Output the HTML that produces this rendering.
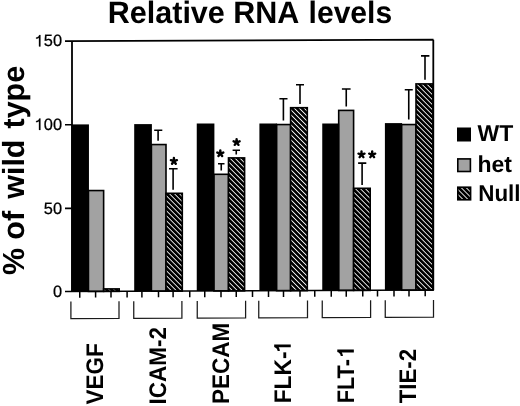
<!DOCTYPE html>
<html><head><meta charset="utf-8"><style>
html,body{margin:0;padding:0;background:#fff;width:520px;height:406px;overflow:hidden}
svg{display:block;will-change:transform}
.b{font-family:"Liberation Sans",sans-serif;font-weight:bold;fill:#000;text-rendering:geometricPrecision}
.r{font-family:"Liberation Sans",sans-serif;font-weight:normal;fill:#000;text-rendering:geometricPrecision;stroke:#000;stroke-width:0.25px}
</style></head><body>
<svg width="520" height="406" viewBox="0 0 520 406">
<defs>
<pattern id="hatch" patternUnits="userSpaceOnUse" width="3.5355" height="3.5355" patternTransform="translate(0,0) rotate(45)"><rect width="3.5355" height="3.5355" fill="#000"/><rect x="0" y="0" width="3.5355" height="0.85" fill="#fff"/></pattern>
<pattern id="hatch0" patternUnits="userSpaceOnUse" width="3.5355" height="3.5355" patternTransform="translate(0,0) rotate(45)"><rect width="3.5355" height="3.5355" fill="#000"/><rect x="0" y="0" width="3.5355" height="0.85" fill="#fff"/></pattern>
<pattern id="hatch1" patternUnits="userSpaceOnUse" width="3.5355" height="3.5355" patternTransform="translate(1.35,0) rotate(45)"><rect width="3.5355" height="3.5355" fill="#000"/><rect x="0" y="0" width="3.5355" height="0.85" fill="#fff"/></pattern>
<pattern id="hatch2" patternUnits="userSpaceOnUse" width="3.5355" height="3.5355" patternTransform="translate(2.45,0) rotate(45)"><rect width="3.5355" height="3.5355" fill="#000"/><rect x="0" y="0" width="3.5355" height="0.85" fill="#fff"/></pattern>
<pattern id="hatch3" patternUnits="userSpaceOnUse" width="3.5355" height="3.5355" patternTransform="translate(1.7,0) rotate(45)"><rect width="3.5355" height="3.5355" fill="#000"/><rect x="0" y="0" width="3.5355" height="0.85" fill="#fff"/></pattern>
<pattern id="hatch4" patternUnits="userSpaceOnUse" width="3.5355" height="3.5355" patternTransform="translate(2.35,0) rotate(45)"><rect width="3.5355" height="3.5355" fill="#000"/><rect x="0" y="0" width="3.5355" height="0.85" fill="#fff"/></pattern>
<pattern id="hatch5" patternUnits="userSpaceOnUse" width="3.5355" height="3.5355" patternTransform="translate(3.4,0) rotate(45)"><rect width="3.5355" height="3.5355" fill="#000"/><rect x="0" y="0" width="3.5355" height="0.85" fill="#fff"/></pattern>
<pattern id="hatchL" patternUnits="userSpaceOnUse" width="3.5355" height="3.5355" patternTransform="translate(4.15,0) rotate(45)"><rect width="3.5355" height="3.5355" fill="#000"/><rect x="0" y="0" width="3.5355" height="0.85" fill="#fff"/></pattern>
</defs>
<rect x="88.45" y="190.55" width="15.18" height="100.86" fill="#a2a2a2" stroke="#000" stroke-width="1.6"/>
<rect x="103.62" y="288.90" width="15.58" height="2.45" fill="url(#hatch0)" stroke="#000" stroke-width="1.6"/>
<rect x="71.3" y="124.4" width="17.65" height="167.07" fill="#000"/>
<rect x="151.40" y="144.55" width="14.60" height="146.62" fill="#a2a2a2" stroke="#000" stroke-width="1.6"/>
<rect x="166.00" y="193.30" width="16.30" height="97.81" fill="url(#hatch1)" stroke="#000" stroke-width="1.6"/>
<rect x="134.2" y="124.1" width="17.70" height="167.13" fill="#000"/>
<rect x="213.90" y="174.30" width="14.60" height="116.63" fill="#a2a2a2" stroke="#000" stroke-width="1.6"/>
<rect x="228.50" y="157.90" width="16.10" height="132.97" fill="url(#hatch2)" stroke="#000" stroke-width="1.6"/>
<rect x="196.75" y="123.5" width="17.65" height="167.49" fill="#000"/>
<rect x="276.60" y="124.55" width="14.00" height="166.15" fill="#a2a2a2" stroke="#000" stroke-width="1.6"/>
<rect x="290.60" y="107.70" width="16.70" height="182.94" fill="url(#hatch3)" stroke="#000" stroke-width="1.6"/>
<rect x="259.4" y="123.5" width="17.70" height="167.25" fill="#000"/>
<rect x="338.70" y="110.40" width="14.90" height="180.06" fill="#a2a2a2" stroke="#000" stroke-width="1.6"/>
<rect x="353.60" y="188.30" width="16.60" height="102.10" fill="url(#hatch4)" stroke="#000" stroke-width="1.6"/>
<rect x="322.25" y="123.5" width="16.95" height="167.02" fill="#000"/>
<rect x="401.60" y="124.55" width="14.40" height="165.67" fill="#a2a2a2" stroke="#000" stroke-width="1.6"/>
<rect x="416.00" y="83.90" width="16.90" height="206.26" fill="url(#hatch5)" stroke="#000" stroke-width="1.6"/>
<rect x="384.9" y="123.1" width="17.20" height="167.18" fill="#000"/>
<path d="M65 41.1 L433.5 39.7 M72 41 L72 291.5 M433.3 39.7 L433.3 290.1282" stroke="#000" stroke-width="1.8" fill="none"/>
<path d="M65 291.43 L433.8 290.03" stroke="#000" stroke-width="1.55" fill="none"/>
<path d="M65 124.8 L72 124.8 M65 208.4 L72 208.4" stroke="#000" stroke-width="1.6"/>
<path d="M79.75 291.47 L79.75 297.67 M95.60 291.41 L95.60 297.61 M111.00 291.35 L111.00 297.55 M127.10 291.29 L127.10 297.49 M141.90 291.23 L141.90 297.43 M158.50 291.17 L158.50 297.37 M173.10 291.12 L173.10 297.32 M189.75 291.05 L189.75 297.25 M204.75 291.00 L204.75 297.20 M221.00 290.93 L221.00 297.13 M236.25 290.88 L236.25 297.08 M252.50 290.81 L252.50 297.01 M268.50 290.75 L268.50 296.95 M283.50 290.70 L283.50 296.90 M300.00 290.63 L300.00 296.83 M314.75 290.58 L314.75 296.78 M331.25 290.51 L331.25 296.71 M346.25 290.46 L346.25 296.66 M362.75 290.40 L362.75 296.60 M377.50 290.34 L377.50 296.54 M394.00 290.28 L394.00 296.48 M409.00 290.22 L409.00 296.42 M425.20 290.16 L425.20 296.36" stroke="#000" stroke-width="1.5"/>
<path d="M70.9 301.40 L70.9 318.50 L119 318.32 L119 301.22 M133.75 301.17 L133.75 318.27 L181.9 318.08 L181.9 300.98 M197.25 300.92 L197.25 318.02 L245.6 317.84 L245.6 300.74 M258.75 300.69 L258.75 317.79 L307.5 317.61 L307.5 300.51 M322.25 300.45 L322.25 317.55 L370.6 317.37 L370.6 300.27 M385.25 300.21 L385.25 317.31 L433.5 317.13 L433.5 300.03" stroke="#1a1a1a" stroke-width="1.25" fill="none"/>
<path d="M154.2 130.25 L162.3 130.25 M158.1 130.25 L158.1 140.8 M169 168.75 L177.6 168.75 M173.1 168.75 L173.1 189.75 M218.0 163.75 L224.5 163.75 M221.25 163.75 L221.25 170.6 M232.6 150.25 L240.0 150.25 M236.25 150.25 L236.25 154.4 M279.4 98.75 L287.5 98.75 M283.4 98.75 L283.4 120.6 M296.0 84.7 L304.0 84.7 M300.0 84.7 L300.0 104.1 M341.9 89.0 L350.6 89.0 M346.25 89.0 L346.25 106.5 M358.1 163.1 L366.3 163.1 M362.1 163.1 L362.1 185.0 M404.75 89.75 L412.75 89.75 M408.75 89.75 L408.75 119.4 M421.0 55.9 L429.4 55.9 M425.0 55.9 L425.0 79.75" stroke="#000" stroke-width="1.6" fill="none"/>
<path d="M173.90 161.20 L173.90 158.05 M173.90 161.20 L176.90 160.23 M173.90 161.20 L175.75 163.75 M173.90 161.20 L172.05 163.75 M173.90 161.20 L170.90 160.23 M220.30 153.50 L220.30 150.35 M220.30 153.50 L223.30 152.53 M220.30 153.50 L222.15 156.05 M220.30 153.50 L218.45 156.05 M220.30 153.50 L217.30 152.53 M236.60 142.30 L236.60 139.15 M236.60 142.30 L239.60 141.33 M236.60 142.30 L238.45 144.85 M236.60 142.30 L234.75 144.85 M236.60 142.30 L233.60 141.33 M361.50 154.60 L361.50 151.45 M361.50 154.60 L364.50 153.63 M361.50 154.60 L363.35 157.15 M361.50 154.60 L359.65 157.15 M361.50 154.60 L358.50 153.63 M372.20 154.60 L372.20 151.45 M372.20 154.60 L375.20 153.63 M372.20 154.60 L374.05 157.15 M372.20 154.60 L370.35 157.15 M372.20 154.60 L369.20 153.63" stroke="#000" stroke-width="2.4" stroke-linecap="round" fill="none"/>
<text x="62.1" y="46.4" font-size="16.4" text-anchor="end" class="r">50</text>
<path transform="translate(35.0,46.4) scale(16.2)" d="M0.245 0 L0.335 0 L0.335 -0.70 L0.265 -0.70 C0.235 -0.60 0.17 -0.555 0.07 -0.545 L0.07 -0.475 C0.14 -0.48 0.205 -0.50 0.245 -0.535 Z" fill="#000" stroke="#000" stroke-width="0.015"/>
<text x="62.1" y="129.9" font-size="16.4" text-anchor="end" class="r">00</text>
<path transform="translate(35.0,129.9) scale(16.2)" d="M0.245 0 L0.335 0 L0.335 -0.70 L0.265 -0.70 C0.235 -0.60 0.17 -0.555 0.07 -0.545 L0.07 -0.475 C0.14 -0.48 0.205 -0.50 0.245 -0.535 Z" fill="#000" stroke="#000" stroke-width="0.015"/>
<text x="62.1" y="213.70000000000002" font-size="16.4" text-anchor="end" class="r">50</text>
<text x="62.1" y="296.59999999999997" font-size="16.4" text-anchor="end" class="r">0</text>
<text transform="translate(107.8,23.2) scale(0.984,1)" font-size="31" class="b">Relative RNA</text>
<text transform="translate(308.6,23.2) scale(0.969,1)" font-size="31" class="b">levels</text>
<text transform="translate(24,274.99) rotate(-90)" font-size="30.5" class="b">&#37;</text>
<text transform="translate(24,239.72) rotate(-90)" font-size="30.5" class="b">of</text>
<text transform="translate(24,198.80) rotate(-90)" font-size="30.5" class="b">wild</text>
<text transform="translate(24,128.52) rotate(-90)" font-size="30.5" class="b">type</text>
<g transform="translate(103.35,404.55) rotate(-90) scale(0.9362,1)"><text font-size="24.0" class="b">VEGF</text></g>
<g transform="translate(165.75,404.40) rotate(-90) scale(0.9351,1)"><text font-size="24.0" class="b">ICAM-2</text></g>
<g transform="translate(228.70,403.95) rotate(-90) scale(0.9352,1)"><text font-size="24.0" class="b">PECAM</text></g>
<g transform="translate(290.75,403.32) rotate(-90) scale(0.9491,1)"><text font-size="24.0" class="b">FLK-</text><path transform="translate(52.485,0) scale(24.0)" d="M0.27 0 L0.40 0 L0.40 -0.69 L0.29 -0.69 C0.26 -0.61 0.20 -0.555 0.11 -0.545 L0.11 -0.455 C0.18 -0.46 0.235 -0.48 0.27 -0.505 Z" fill="#000"/></g>
<g transform="translate(353.85,403.25) rotate(-90) scale(0.9030,1)"><text font-size="24.0" class="b">FLT-</text><path transform="translate(49.813,0) scale(24.0)" d="M0.27 0 L0.40 0 L0.40 -0.69 L0.29 -0.69 C0.26 -0.61 0.20 -0.555 0.11 -0.545 L0.11 -0.455 C0.18 -0.46 0.235 -0.48 0.27 -0.505 Z" fill="#000"/></g>
<g transform="translate(416.35,403.35) rotate(-90) scale(0.9261,1)"><text font-size="24.0" class="b">TIE-2</text></g>
<rect x="457" y="127.5" width="14" height="14" fill="#000"/>
<rect x="457.8" y="158.9" width="12.6" height="12.6" fill="#a2a2a2" stroke="#000" stroke-width="1.6"/>
<rect x="457.8" y="187.2" width="12.8" height="12.6" fill="url(#hatchL)" stroke="#000" stroke-width="1.6"/>
<text x="477.5" y="141.3" font-size="23" class="b">WT</text>
<text x="477.4" y="171.9" font-size="23" class="b">het</text>
<text transform="translate(478.2,200.8) scale(0.975,1)" font-size="23" class="b">Null</text>
</svg>
</body></html>
